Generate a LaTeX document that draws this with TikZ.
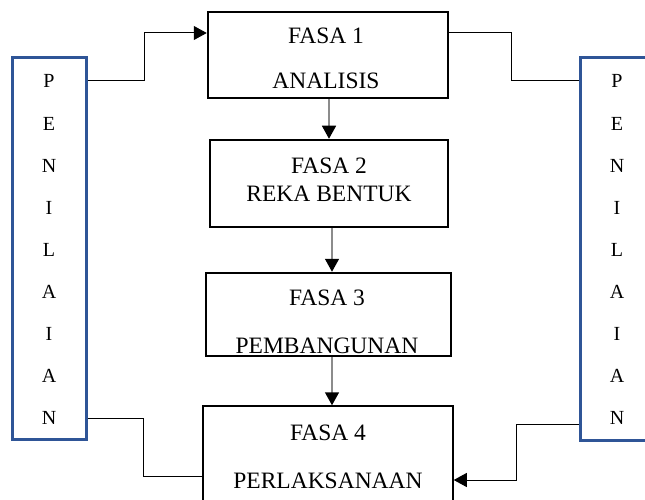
\documentclass[tikz,border=0pt]{standalone}
\usepackage{fontspec}
\setmainfont{Liberation Serif}
\usetikzlibrary{arrows.meta}
\definecolor{penblue}{RGB}{47,85,151}
\definecolor{arrgray}{RGB}{140,140,140}
\tikzset{
  fasabox/.style={draw=black, line width=2.5pt, rectangle, inner sep=0pt},
  penbox/.style={draw=penblue, line width=3pt, rectangle, inner sep=0pt},
  fasatext/.style={anchor=base, inner sep=0pt, font=\fontsize{23.5}{28}\selectfont},
  pentext/.style={anchor=base, inner sep=0pt, font=\fontsize{20}{24}\selectfont},
  conn/.style={draw=black, line width=1pt},
  vflow/.style={draw=arrgray, line width=1.5pt, -{Triangle[length=13pt,width=14pt,fill=black,color=black]}},
  sideflow/.style={conn, -{Triangle[length=13pt,width=14pt]}}
}
\begin{document}
\begin{tikzpicture}[x=1pt,y=-1pt]
\useasboundingbox (0,0) rectangle (645,500);
\clip (0,0) rectangle (645,500);
% boxes
\node[fasabox, minimum width=240pt, minimum height=86pt] (f1) at (328,55) {};
\node[fasabox, minimum width=238pt, minimum height=87pt] (f2) at (329,183.5) {};
\node[fasabox, minimum width=245pt, minimum height=83pt] (f3) at (328.5,314.5) {};
\node[fasabox, line width=1.5pt, minimum width=250pt, minimum height=110pt] (f4) at (328,461) {};
\node[penbox, minimum width=74pt, minimum height=381pt] (pl) at (49,248.5) {};
\node[penbox, minimum width=90pt, minimum height=382pt] (pr) at (625,249) {};
% texts
\node[fasatext] (t1a) at (326,44) {FASA 1};
\node[fasatext] (t1b) at (326,89) {ANALISIS};
\node[fasatext] (t2a) at (329,173) {FASA 2};
\node[fasatext] (t2b) at (329,201) {REKA BENTUK};
\node[fasatext] (t3a) at (327,305) {FASA 3};
\node[fasatext] (t3b) at (327,353) {PEMBANGUNAN};
\node[fasatext] (t4a) at (328,440) {FASA 4};
\node[fasatext] (t4b) at (328,488) {PERLAKSANAAN};
\foreach \ch [count=\i from 0] in {P,E,N,I,L,A,I,A,N} {
  \node[pentext] (pl\i) at (49,{88+42.1*\i}) {\ch};
  \node[pentext] (pr\i) at (617,{88+42.1*\i}) {\ch};
}
% vertical flow
\draw[vflow] (f1.south -| 329,0) -- (f2.north -| 329,0);
\draw[vflow] (f2.south -| 332,0) -- (f3.north -| 332,0);
\draw[vflow] (f3.south -| 332,0) -- (f4.north -| 332,0);
% side connectors
\draw[sideflow] (pl.east |- 0,81) -- (144,81) -- (144,33) -- (f1.west |- 0,33);
\draw[conn] (f1.east |- 0,33) -- (511,33) -- (511,81) -- (pr.west |- 0,81);
\draw[conn] (pl.east |- 0,418) -- (143,418) -- (143,476) -- (f4.west |- 0,476);
\draw[sideflow] (pr.west |- 0,424) -- (516,424) -- (516,480) -- (f4.east |- 0,480);
\end{tikzpicture}
\end{document}
